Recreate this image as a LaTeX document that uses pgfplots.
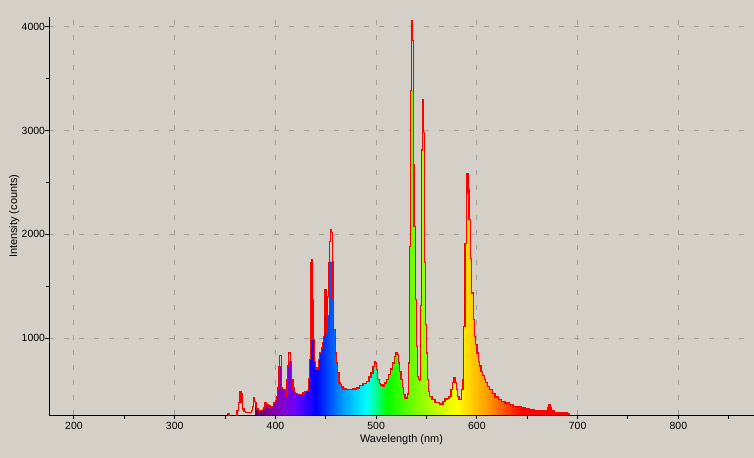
\documentclass[border=0pt]{standalone}
\usepackage{fontspec}
\setmainfont{Liberation Sans}
\usepackage{pgfplots}
\usepackage{pgfplotstable}
\pgfplotsset{compat=1.18}
\definecolor{bg}{HTML}{D4D0C8}
\definecolor{gridc}{HTML}{A3A09A}
\pgfdeclarehorizontalshading{spectrum}{100bp}{%
rgb(0bp)=(0.38,0,0.38);
rgb(25bp)=(0.38,0,0.38);
rgb(26.60bp)=(0.476,0,0.551);
rgb(28.21bp)=(0.512,0,0.708);
rgb(29.81bp)=(0.492,0,0.857);
rgb(31.41bp)=(0.415,0,1);
rgb(34.62bp)=(0,0,1);
rgb(38.62bp)=(0,0.574,1);
rgb(42.63bp)=(0,1,1);
rgb(44.23bp)=(0,1,0.574);
rgb(45.83bp)=(0,1,0);
rgb(51.44bp)=(0.574,1,0);
rgb(57.05bp)=(1,1,0);
rgb(62.26bp)=(1,0.574,0);
rgb(67.47bp)=(1,0,0);
rgb(75bp)=(1,0,0);
rgb(100bp)=(1,0,0)}
\pgfplotstableread{
x l f
351.5 270 270
354.0 240 240
362.0 300 300
363.4 380 380
364.7 486 486
366.0 460 460
366.7 380 380
367.4 317 317
368.7 295 295
370.0 284 284
372.0 280 280
374.0 284 284
376.0 300 300
377.0 342 342
377.9 423 423
378.6 410 410
379.3 390 390
380.0 374 374
380.6 340 340
381.2 317 317
383.0 303 303
385.0 303 303
387.2 310 310
388.5 325 325
389.8 374 374
391.2 357 357
393.0 345 345
395.0 336 336
397.0 340 340
398.4 374 374
399.8 400 400
401.1 438 438
402.4 519 519
403.7 727 700
404.4 830 727
405.7 727 727
406.3 519 519
407.0 502 502
409.0 502 502
410.3 438 438
411.6 599 599
412.3 730 730
413.0 856 775
414.3 860 775
415.0 775 775
416.3 599 599
417.6 519 519
419.0 476 476
420.2 464 464
422.2 458 458
424.5 454 454
426.2 458 458
427.5 470 470
429.5 486 486
431.5 495 495
432.8 605 605
433.5 791 791
434.8 984 984
435.4 1722 1369
436.1 1760 1369
436.8 1369 1369
437.4 984 984
438.8 775 775
440.1 702 702
441.4 711 711
442.8 791 791
444.0 856 856
445.4 904 904
446.7 958 958
448.0 1015 1015
448.7 1224 1224
449.3 1465 1224
450.7 1400 1224
451.3 1048 1048
452.0 1400 1224
453.3 1722 1500
454.0 1930 1737
454.7 2042 1737
455.9 2020 1737
456.6 1737 1737
457.3 1369 1369
457.9 1080 1080
459.3 856 856
460.6 759 759
461.9 663 663
463.2 567 567
464.6 551 551
465.9 528 528
467.2 509 509
470.5 502 502
472.5 505 505
474.5 502 502
477.1 510 510
480.5 519 519
483.7 540 540
487.0 560 560
490.4 582 582
493.0 625 625
495.0 663 663
497.0 727 727
498.3 772 772
499.0 760 760
500.3 695 695
501.6 599 599
503.0 560 560
504.3 541 541
505.6 551 551
506.9 534 534
508.2 567 567
510.2 599 599
512.2 647 647
514.2 702 702
516.1 759 759
518.1 823 823
519.4 856 856
520.8 840 840
522.1 759 759
523.4 680 680
524.7 600 600
526.0 527 527
527.4 454 454
528.7 423 423
530.0 423 423
531.4 460 460
532.3 759 759
533.3 1882 1882
534.3 3383 3383
535.3 4054 3383
536.3 3864 3383
537.0 2675 2675
537.6 2074 2074
538.9 1369 1369
540.0 919 919
541.0 630 630
542.3 599 599
543.6 590 590
544.3 1311 1311
545.3 2812 2812
546.0 3294 2812
547.0 2983 2812
548.0 1731 1731
549.0 1128 1128
550.0 856 856
551.0 599 599
552.0 486 486
553.3 438 438
555.3 406 406
558.3 380 380
563.2 365 365
566.4 389 389
568.4 413 413
570.4 420 420
572.4 438 438
574.4 502 502
575.7 573 573
577.1 615 615
578.4 573 573
579.7 502 502
581.0 438 438
582.3 406 406
583.7 410 410
585.0 502 502
586.3 599 599
587.0 1112 1112
588.3 1914 1914
589.6 2396 2396
590.3 2588 2427
591.0 2588 2427
591.6 2427 2427
592.3 2139 2139
593.6 1770 1770
594.9 1433 1433
596.3 1176 1176
597.6 1015 1015
598.9 936 936
600.2 856 856
601.6 775 775
602.9 730 730
604.2 679 679
605.5 640 640
607.5 602 602
608.8 573 573
610.8 534 534
612.8 502 502
615.5 464 464
618.1 432 432
621.4 406 406
624.7 387 387
628.0 374 374
630.0 380 380
632.6 358 358
635.9 342 342
639.9 335 335
643.8 326 326
647.8 317 317
652.4 310 310
657.4 303 303
662.3 297 297
667.6 303 303
670.2 326 326
671.6 358 358
672.9 326 326
674.2 297 297
677.2 284 284
682.1 281 281
686.1 281 281
689.4 271 271
691.4 262 262
692.0 262 262
}\spec
\begin{document}
\begin{tikzpicture}
\fill[bg] (0,0) rectangle (754bp,458bp);
\begin{axis}[
  at={(49.5bp,42.7bp)}, anchor=south west,
  scale only axis, width=704.5bp, height=398bp,
  xmin=175.7, xmax=874.6, ymin=258.7, ymax=4090.5,
  axis x line*=bottom, axis y line*=left,
  axis line style={-, line width=1bp, black},
  xtick={200,300,...,800}, minor xtick={250,350,...,850},
  ytick={1000,2000,3000,4000}, minor ytick={1500,2500,3500},
  tick align=outside, major tick length=4bp, minor tick length=3.5bp,
  tick style={black, line width=1bp},
  grid=major,
  major grid style={gridc, dash pattern=on 5bp off 10bp, line width=1bp},
  tick label style={font=\fontsize{10.5}{12}\selectfont},
  yticklabel style={xshift=3bp},
  label style={font=\fontsize{11}{13}\selectfont},
  /pgf/number format/assume math mode=true,
  /pgf/number format/1000 sep={},
  xlabel={Wavelength (nm)}, ylabel={Intensity (counts)},
  xlabel style={at={(axis description cs:0.5,-0.0621)}, anchor=center},
  ylabel style={at={(axis description cs:-0.04996,0.5)}, anchor=center},
]
\addplot[const plot, draw=none, shading=spectrum, restrict x to domain=380:692]
  table[x=x, y=f] {\spec} \closedcycle;
\addplot[const plot, draw=red, line width=1.3bp] table[x=x, y=l] {\spec};
\end{axis}
\useasboundingbox (0,0) rectangle (754bp,458bp);
\end{tikzpicture}
\end{document}
